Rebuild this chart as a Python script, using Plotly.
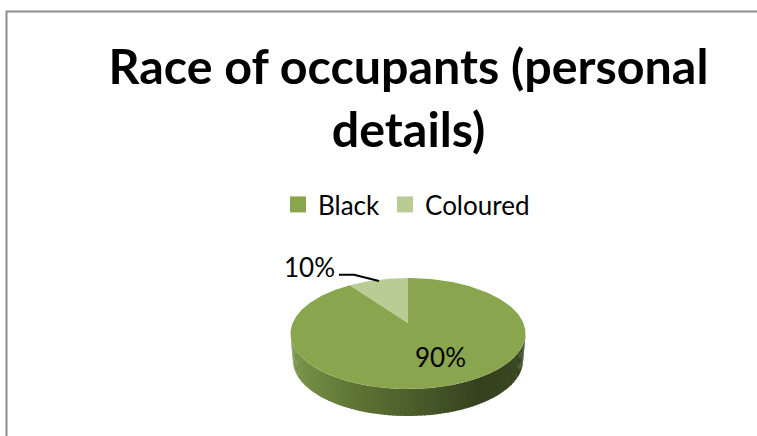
import numpy as np
import plotly.graph_objects as go

# Data
categories = ["Black", "Coloured"]
shares = [90, 10]
slice_colors = ["#89A54E", "#B8CC93"]
title_text = "Race of occupants (personal<br>details)"

# Projection of the tilted pie, in page pixels
CX, CY, RX, RY = 408.0, 333.5, 117.5, 55.5
APEX_Y = 323.0
DEPTH, RX_LOW = 27.0, 115.0
FONT = "Lato, Carlito, Calibri, sans-serif"


def rim(theta):
    """Ellipse-rim point for a clockwise angle from 12 o'clock (perspective pie)."""
    h = (CY - APEX_Y) / RY
    d = h * np.cos(theta)
    s = -d + np.sqrt(d * d - (h * h - 1))
    return CX + RX * s * np.sin(theta), CY - RY * (h + s * np.cos(theta))


fig = go.Figure()

# Side wall, shaded with a left-to-right gradient
stops_x = [0.0, 0.25, 0.55, 0.8, 1.0]
stops_rgb = np.array([[122, 148, 73], [95, 118, 54], [72, 90, 42], [52, 65, 29], [58, 72, 32]])
n = 90
edges = np.linspace(np.pi, 0, n + 1)
for i in range(n):
    t = np.linspace(edges[i], edges[i + 1] - 0.012 if i < n - 1 else edges[i + 1], 4)
    xt = CX + RX * np.cos(t)
    yt = CY + RY * np.sin(t)
    xb = CX + RX_LOW * np.cos(t)
    yb = CY + DEPTH + RY * np.sin(t)
    frac = (CX + RX * np.cos(edges[i]) - (CX - RX)) / (2 * RX)
    c = [np.interp(frac, stops_x, stops_rgb[:, k]) for k in range(3)]
    fig.add_trace(go.Scatter(
        x=np.r_[xt, xb[::-1]], y=np.r_[yt, yb[::-1]], mode="lines", fill="toself",
        fillcolor=f"rgb({c[0]:.0f},{c[1]:.0f},{c[2]:.0f})", line=dict(width=0),
        showlegend=False, hoverinfo="skip"))

# Top-face slices, from the data: clockwise from 12 o'clock
start = 0.0
label_pos = {"Black": (440, 357), "Coloured": (309, 267)}
for name, val, col in zip(categories, shares, slice_colors):
    end = start + 2 * np.pi * val / sum(shares)
    th = np.linspace(start, end, 240)
    px, py = rim(th)
    fig.add_trace(go.Scatter(
        x=np.r_[CX, px, CX], y=np.r_[APEX_Y, py, APEX_Y], mode="lines", fill="toself",
        fillcolor=col, line=dict(width=0), showlegend=False, name=name, hoverinfo="skip"))
    start = end

# Legend entries
for name, col in zip(categories, slice_colors):
    fig.add_trace(go.Scatter(
        x=[None], y=[None], mode="markers", name=name,
        marker=dict(symbol="square", size=16, color=col)))

# Data labels
for name, val in zip(categories, shares):
    lx, ly = label_pos[name]
    fig.add_annotation(x=lx, y=ly, text=f"{val}%", showarrow=False,
                       font=dict(family=FONT, size=26, color="#000000"))

fig.update_layout(
    width=757, height=436, autosize=False,
    margin=dict(l=0, r=0, t=0, b=0),
    paper_bgcolor="white", plot_bgcolor="white",
    title=dict(text=title_text, x=408.5 / 757, xanchor="center", y=1 - 84 / 436, yanchor="top",
               font=dict(family=FONT, size=48.4, color="#000000", weight="bold")),
    xaxis=dict(range=[0, 757], visible=False, fixedrange=True),
    yaxis=dict(range=[436, 0], visible=False, fixedrange=True),
    legend=dict(orientation="h", x=278 / 757, xanchor="left", y=1 - 181 / 436, yanchor="top",
                font=dict(family=FONT, size=26, color="#000000"),
                bgcolor="rgba(0,0,0,0)", itemwidth=30, traceorder="normal"),
    shapes=[
        dict(type="path", path="M 757 11.5 L 6.5 11.5 L 6.5 436", xref="x", yref="y",
             line=dict(color="#8C8C8C", width=2)),
        dict(type="path", path="M 339 274.7 L 354 274.7 L 379 281", xref="x", yref="y",
             line=dict(color="#000000", width=2)),
    ],
)
fig.write_html("out.html", config={"displayModeBar": False},
               post_script="document.body.style.margin='0';document.documentElement.style.overflow='hidden';")
